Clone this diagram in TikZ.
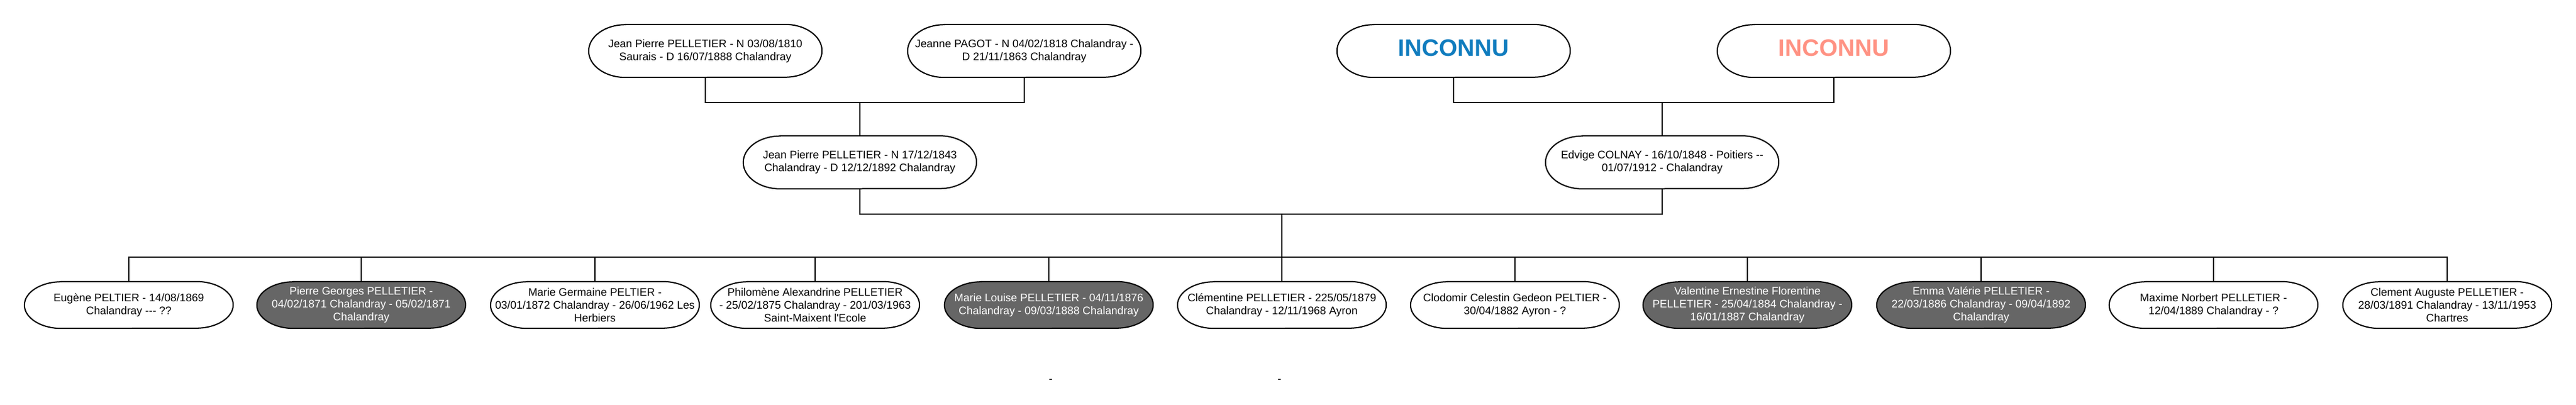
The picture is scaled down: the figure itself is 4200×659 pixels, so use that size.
\documentclass[tikz,border=0pt]{standalone}
\usepackage{fontspec}
\setmainfont{Liberation Sans}[Ligatures=TeXOff]
\usetikzlibrary{backgrounds}
\definecolor{boxgray}{HTML}{666666}
\definecolor{unkblue}{HTML}{107CBE}
\definecolor{unksalmon}{HTML}{FF9283}
\tikzset{
  person/.style={inner sep=0pt, align=center, font=\fontsize{17.9pt}{21.2pt}\selectfont, text=black},
  toprow/.style={person, minimum width=380pt, minimum height=86pt},
  kid/.style={person, minimum width=340pt, minimum height=76pt},
  dead/.style={text=white},
  unknown/.style={toprow, font=\bfseries\fontsize{38.7pt}{46pt}\selectfont, text depth=10.4pt},
  link/.style={line width=2pt, draw=black},
  outline/.style={line width=2pt, draw=black},
}
\newcommand\termshape[4]{%
  \draw[outline, fill=#2] ([xshift=#3]#1.north west) -- ([xshift=-#3]#1.north east)
    arc[start angle=90, end angle=-90, x radius=#3, y radius=#4]
    -- ([xshift=#3]#1.south west)
    arc[start angle=270, end angle=90, x radius=#3, y radius=#4] -- cycle;}
\begin{document}
\begin{tikzpicture}[x=1pt, y=-1pt]
\useasboundingbox (0,0) rectangle (4200,659);

% grandparents
\node[toprow] (jpa) at (1150,83) {Jean Pierre PELLETIER - N 03/08/1810\\Saurais - D 16/07/1888 Chalandray};
\node[toprow] (jpg) at (1670,83) {Jeanne PAGOT - N 04/02/1818 Chalandray -\\D 21/11/1863 Chalandray};
\node[unknown, text=unkblue] (unkf) at (2370,83) {INCONNU};
\node[unknown, text=unksalmon] (unkm) at (2990,83) {INCONNU};

% parents
\node[toprow] (jpb) at (1402,264.5) {Jean Pierre PELLETIER - N 17/12/1843\\Chalandray - D 12/12/1892 Chalandray};
\node[toprow] (edv) at (2710,264.5) {Edvige COLNAY - 16/10/1848 - Poitiers --\\01/07/1912 - Chalandray};

% children
\node[kid] (k1) at (210,497) {Eugène PELTIER - 14/08/1869\\Chalandray --- ??};
\node[kid, dead] (k2) at (589,497) {Pierre Georges PELLETIER -\\04/02/1871 Chalandray - 05/02/1871\\Chalandray};
\node[kid] (k3) at (970,497) {Marie Germaine PELTIER -\\03/01/1872 Chalandray - 26/06/1962 Les\\Herbiers};
\node[kid] (k4) at (1329,497) {Philomène Alexandrine PELLETIER\\- 25/02/1875 Chalandray - 201/03/1963\\Saint-Maixent l'Ecole};
\node[kid, dead] (k5) at (1710,497) {Marie Louise PELLETIER - 04/11/1876\\Chalandray - 09/03/1888 Chalandray};
\node[kid] (k6) at (2090,497) {Clémentine PELLETIER - 225/05/1879\\Chalandray - 12/11/1968 Ayron};
\node[kid] (k7) at (2470,497) {Clodomir Celestin Gedeon PELTIER -\\30/04/1882 Ayron - ?};
\node[kid, dead] (k8) at (2849,497) {Valentine Ernestine Florentine\\PELLETIER - 25/04/1884 Chalandray -\\16/01/1887 Chalandray};
\node[kid, dead] (k9) at (3230,497) {Emma Valérie PELLETIER -\\22/03/1886 Chalandray - 09/04/1892\\Chalandray};
\node[kid] (k10) at (3609,497) {Maxime Norbert PELLETIER -\\12/04/1889 Chalandray - ?};
\node[kid] (k11) at (3990,497) {Clement Auguste PELLETIER -\\28/03/1891 Chalandray - 13/11/1953\\Chartres};

% stray labels
\node[person, anchor=base] (dash1) at (1713,623) {-};
\node[person, anchor=base] (dash2) at (2086,623) {-};

% page and outlines behind the texts
\begin{scope}[on background layer]
  \fill[white] (0,0) rectangle (4200,659);
  \foreach \n in {jpa,jpg,unkf,unkm,jpb,edv}{\termshape{\n}{white}{60pt}{43pt}}
  \foreach \n in {k1,k3,k4,k6,k7,k10,k11}{\termshape{\n}{white}{60pt}{38pt}}
  \foreach \n in {k2,k5,k8,k9}{\termshape{\n}{boxgray}{60pt}{38pt}}
\end{scope}

% connectors
\coordinate (b1) at (1402,167);
\coordinate (b2) at (2710,167);
\coordinate (b3) at (2090,349);
\coordinate (b4) at (2090,419);
\draw[link] (jpa.south) |- (b1) -| (jpg.south);
\draw[link] (b1) -- (jpb.north);
\draw[link] (unkf.south) |- (b2) -| (unkm.south);
\draw[link] (b2) -- (edv.north);
\draw[link] (jpb.south) |- (b3) -| (edv.south);
\draw[link] (b3) -- (k6.north);
\draw[link] (k1.north) |- (b4) -| (k11.north);
\foreach \n in {k2,k3,k4,k5,k7,k8,k9,k10}{\draw[link] (\n.north) -- (\n.north |- b4);}
\end{tikzpicture}
\end{document}
